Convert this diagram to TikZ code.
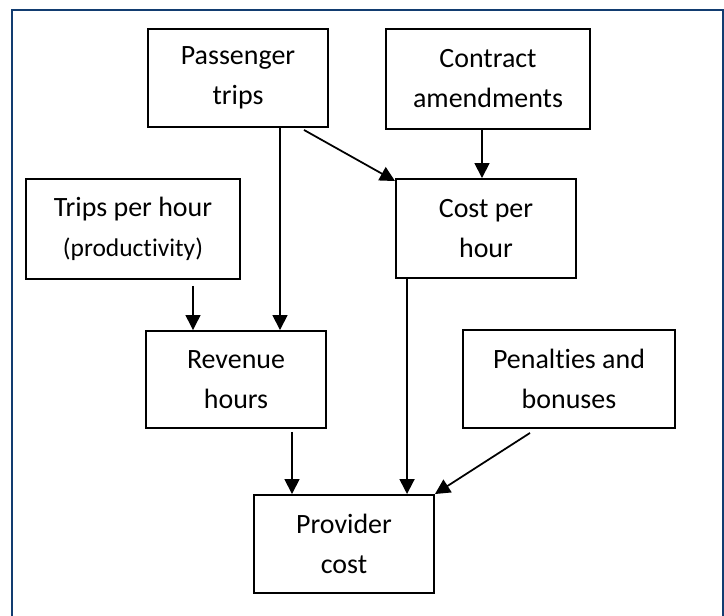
\documentclass[tikz,border=0pt]{standalone}
\usepackage{fontspec}
\setmainfont{Carlito}[Ligatures=NoCommon]
\usepackage{xcolor}
\usepackage{tikz}
\usetikzlibrary{arrows.meta}
\definecolor{FrameBlue}{RGB}{18,60,112}

\begin{document}
\begin{tikzpicture}[
  box/.style={draw,line width=1.1pt,minimum width=3.6cm,minimum height=1.96cm,
    align=center,inner sep=0pt,font=\fontsize{15.9}{22.8}\selectfont},
  arr/.style={-{Triangle[length=0.3cm,width=0.3cm]},line width=1pt},
  thinarr/.style={arr,line width=0.8pt}]
\useasboundingbox (0,0) rectangle (14.48,12.32);
% frame, open at the bottom
\draw[color=FrameBlue,line width=1.2pt] (0.24,-0.2) |- (14.46,12.12) -- (14.46,-0.2);

\node[box] (pass) at (4.76,10.76) {Passenger\\trips};
\node[box,minimum width=4.08cm,minimum height=2cm] (contract) at (9.76,10.74) {Contract\\amendments};
\node[box,minimum width=4.28cm,minimum height=2cm] (tph) at (2.66,7.74)
{Trips per hour\\{\fontsize{14.5}{22.8}\selectfont(productivity)}};
\node[box,minimum height=1.98cm] (cph) at (9.72,7.75) {Cost per\\hour};
\node[box,minimum height=1.94cm] (rev) at (4.72,4.73) {Revenue\\hours};
\node[box,minimum width=4.24cm] (pen) at (11.38,4.74) {Penalties and\\bonuses};
\node[box] (prov) at (6.88,1.44) {Provider\\cost};

\draw[arr] ([xshift=0.84cm]pass.south) -- ([xshift=0.84cm]pass.south |- rev.north);
\draw[arr] ([xshift=1.32cm,yshift=-0.04cm]pass.south) -- ([yshift=-0.06cm]cph.north west);
\draw[arr] ([xshift=-0.12cm]contract.south) -- ([xshift=-0.12cm]contract.south |- cph.north);
\draw[thinarr] ([xshift=1.2cm,yshift=-0.12cm]tph.south) -- ([xshift=1.2cm]tph.south |- rev.north);
\draw[arr] ([xshift=0.24cm]cph.south west) -- ([xshift=0.24cm]cph.south west |- prov.north);
\draw[arr] ([xshift=1.12cm,yshift=-0.06cm]rev.south) -- ([xshift=1.12cm]rev.south |- prov.north);
\draw[arr] ([xshift=-0.78cm,yshift=-0.08cm]pen.south) -- (prov.north east);
\end{tikzpicture}
\end{document}
